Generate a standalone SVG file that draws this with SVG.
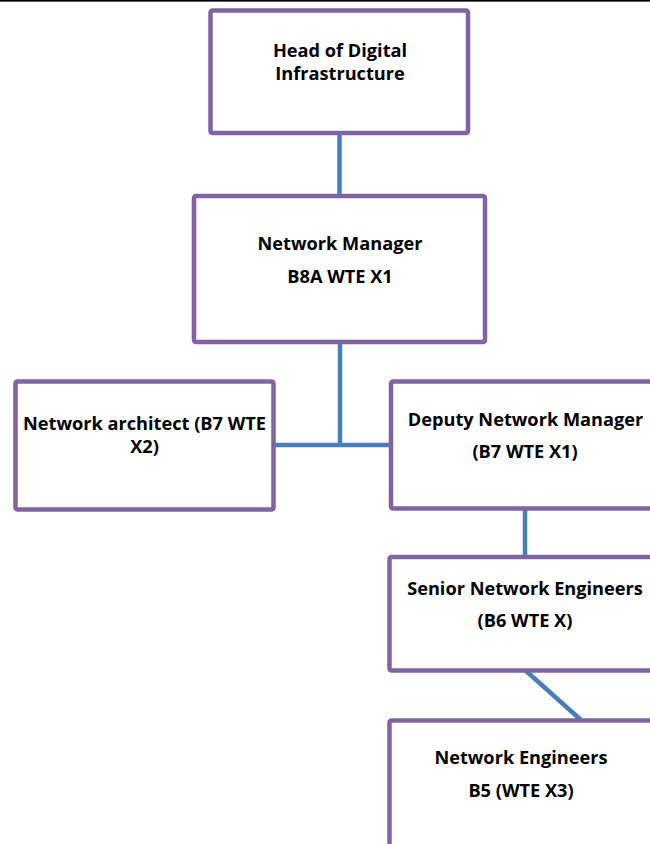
<svg xmlns="http://www.w3.org/2000/svg" width="650" height="844" viewBox="0 0 650 844">
<style>
.box{fill:#ffffff;stroke:#8064A2;stroke-width:4.5;stroke-linejoin:round}
.lbl{font-family:"Open Sans","Liberation Sans",sans-serif;font-weight:700;font-size:18.2px;fill:#000;text-anchor:middle}
.conn{stroke:#4A7EBB;stroke-width:4.5;fill:none}
</style>
<rect x="0" y="0" width="650" height="1.6" fill="#000"/>
<g id="connectors">
<line class="conn" x1="339.5" y1="133" x2="339.5" y2="196"/>
<polyline class="conn" points="340,342 340,445"/>
<line class="conn" x1="273.5" y1="445" x2="390" y2="445"/>
<line class="conn" x1="525" y1="510" x2="525" y2="557"/>
<line class="conn" x1="525" y1="670" x2="581" y2="720"/>
</g>
<g id="head">
<rect class="box" x="210.5" y="10.5" width="257.5" height="122.5" rx="2"/>
<text class="lbl" x="340" y="56.5">Head of Digital</text>
<text class="lbl" x="340" y="79.5">Infrastructure</text>
</g>
<g id="network-manager">
<rect class="box" x="194" y="196" width="291" height="146" rx="2"/>
<text class="lbl" x="340" y="249.5">Network Manager</text>
<text class="lbl" x="340" y="282.5">B8A WTE X1</text>
</g>
<g id="network-architect">
<rect class="box" x="15.5" y="381.5" width="258" height="128" rx="2"/>
<text class="lbl" x="144.5" y="429.5">Network architect (B7 WTE</text>
<text class="lbl" x="144.5" y="452.5">X2)</text>
</g>
<g id="deputy">
<rect class="box" x="391" y="381.5" width="275" height="127" rx="2"/>
<text class="lbl" x="525.5" y="425.5">Deputy Network Manager</text>
<text class="lbl" x="525" y="457.5">(B7 WTE X1)</text>
</g>
<g id="senior">
<rect class="box" x="389.5" y="557" width="275" height="113.5" rx="2"/>
<text class="lbl" x="525" y="594.5">Senior Network Engineers</text>
<text class="lbl" x="525" y="626.5">(B6 WTE X)</text>
</g>
<g id="engineers">
<rect class="box" x="389.5" y="720.5" width="275" height="140" rx="2"/>
<text class="lbl" x="521" y="763.5">Network Engineers</text>
<text class="lbl" x="521" y="796.5">B5 (WTE X3)</text>
</g>
</svg>
